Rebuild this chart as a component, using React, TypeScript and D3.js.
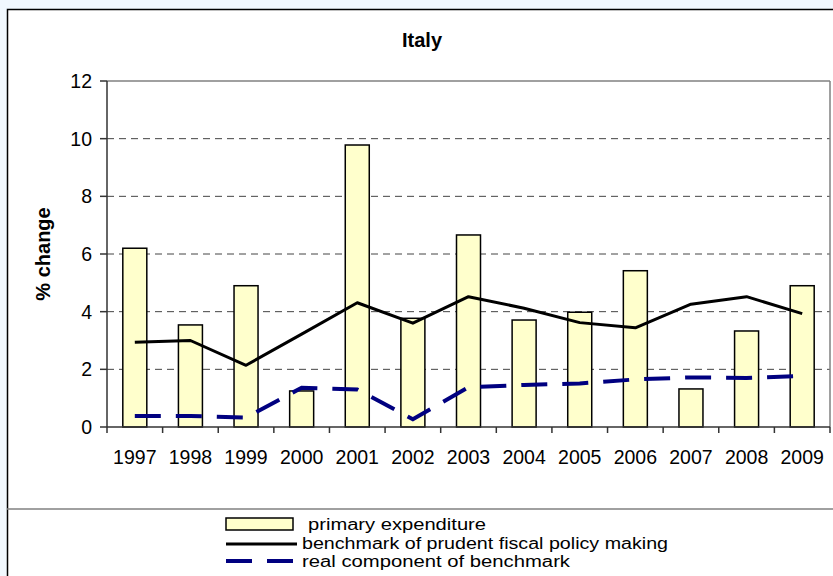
import React from 'react';
import * as d3 from 'd3';

const years = ['1997','1998','1999','2000','2001','2002','2003','2004','2005','2006','2007','2008','2009'];
const primaryExpenditure = [6.2, 3.54, 4.9, 1.25, 9.78, 3.77, 6.66, 3.71, 3.98, 5.42, 1.32, 3.33, 4.9];
const benchmark = [2.94, 3.0, 2.14, 3.22, 4.31, 3.6, 4.52, 4.12, 3.62, 3.44, 4.26, 4.52, 3.93];
const realComponent = [0.38, 0.38, 0.33, 1.36, 1.3, 0.27, 1.38, 1.46, 1.51, 1.65, 1.72, 1.7, 1.77];
const yTicks = [0, 2, 4, 6, 8, 10, 12];
const legendLabels = ['primary expenditure', 'benchmark of prudent fiscal policy making', 'real component of benchmark'];

const W = 833, H = 576;
const plot = { left: 107, top: 81, right: 830, bottom: 427 };
const FONT = 'Arial, "Liberation Sans", sans-serif';

export default function App() {
  const x = d3.scaleBand<string>().domain(years).range([plot.left, plot.right]).padding(0);
  const y = d3.scaleLinear().domain([0, 12]).range([plot.bottom, plot.top]);
  const cx = (yr: string) => (x(yr) as number) + x.bandwidth() / 2;
  const barW = 24;
  const line = d3.line<number>().x((_, i) => cx(years[i])).y(v => y(v));
  const boundaries = years.map(yr => x(yr) as number).concat([plot.right]);

  return (
    <svg width={W} height={H} style={{ position: 'absolute', left: 0, top: 0, display: 'block' }} fontFamily={FONT}>
      <rect x={0} y={0} width={W} height={H} fill="#F1F8FE" />
      <rect x={7.5} y={9.5} width={W + 20} height={H + 20} fill="#ffffff" stroke="#000" strokeWidth={1.5} />
      <text x={422} y={46.5} textAnchor="middle" fontWeight="bold" fontSize={20}>Italy</text>

      {/* gridlines */}
      {yTicks.filter(t => t > 0 && t < 12).map(t => (
        <line key={'g' + t} x1={plot.left} x2={plot.right} y1={y(t)} y2={y(t)} stroke="#444" strokeWidth={1} strokeDasharray="7,5" />
      ))}
      {/* plot area border (top, right) */}
      <line x1={plot.left} x2={plot.right} y1={plot.top} y2={plot.top} stroke="#808080" strokeWidth={1.5} />
      <line x1={plot.right} x2={plot.right} y1={plot.top} y2={plot.bottom} stroke="#808080" strokeWidth={1.5} />

      {/* bars */}
      {years.map((yr, i) => (
        <rect key={'b' + yr} x={cx(yr) - barW / 2} y={y(primaryExpenditure[i])} width={barW}
          height={y(0) - y(primaryExpenditure[i])} fill="#FFFFCC" stroke="#000" strokeWidth={1.5} />
      ))}

      {/* axes */}
      <line x1={plot.left} x2={plot.left} y1={plot.top} y2={plot.bottom} stroke="#333" strokeWidth={1.5} />
      <line x1={plot.left} x2={plot.right} y1={plot.bottom} y2={plot.bottom} stroke="#333" strokeWidth={1.5} />
      {yTicks.map(t => (
        <g key={'yt' + t}>
          <line x1={plot.left - 7} x2={plot.left} y1={y(t)} y2={y(t)} stroke="#333" strokeWidth={1.5} />
          <text x={92} y={y(t) + 7} textAnchor="end" fontSize={19.5}>{t}</text>
        </g>
      ))}
      {boundaries.map((b, i) => (
        <line key={'xt' + i} x1={b} x2={b} y1={plot.bottom} y2={plot.bottom + 6} stroke="#333" strokeWidth={1.5} />
      ))}
      {years.map(yr => (
        <text key={'xl' + yr} x={cx(yr)} y={464} textAnchor="middle" fontSize={19.5}>{yr}</text>
      ))}
      <text transform={`translate(50,254) rotate(-90)`} textAnchor="middle" fontWeight="bold" fontSize={20}>% change</text>

      {/* lines */}
      <path d={line(benchmark) || ''} fill="none" stroke="#000" strokeWidth={3} strokeLinejoin="round" />
      <path d={line(realComponent) || ''} fill="none" stroke="#000080" strokeWidth={4} strokeDasharray="26,15" />

      {/* legend */}
      <line x1={7} x2={W} y1={509} y2={509} stroke="#808080" strokeWidth={1.5} />
      <rect x={226} y={518} width={67} height={12} fill="#FFFFCC" stroke="#000" strokeWidth={1.5} />
      <text x={308} y={529.5} fontSize={16} textLength={178} lengthAdjust="spacingAndGlyphs">{legendLabels[0]}</text>
      <line x1={226} x2={297} y1={544} y2={544} stroke="#000" strokeWidth={3} />
      <text x={302} y={548.5} fontSize={16} textLength={366} lengthAdjust="spacingAndGlyphs">{legendLabels[1]}</text>
      <line x1={226} x2={296} y1={561} y2={561} stroke="#000080" strokeWidth={4} strokeDasharray="26,15" />
      <text x={302} y={566.5} fontSize={16} textLength={268} lengthAdjust="spacingAndGlyphs">{legendLabels[2]}</text>
    </svg>
  );
}
